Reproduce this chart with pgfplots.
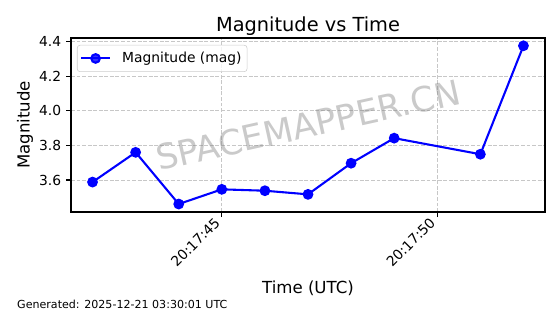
\documentclass[border=0pt]{standalone}
\usepackage{fontspec}
\setmainfont{DejaVu Sans}
\usepackage{pgfplots}
\pgfplotsset{compat=1.18}
\definecolor{mplblue}{RGB}{0,0,255}
\begin{document}
\begin{tikzpicture}
\path[use as bounding box] (0,0) rectangle (403.2bp,226.08bp);
\begin{axis}[
  at={(51.12bp,73.44bp)}, anchor=south west, scale only axis,
  width=341.28bp, height=125.28bp,
  xmin=41.5, xmax=52.5, ymin=3.415, ymax=4.421,
  xtick={45,50}, xticklabels={20:17:45,20:17:50},
  ytick={3.6,3.8,4.0,4.2,4.4},
  yticklabel style={/pgf/number format/.cd,fixed,fixed zerofill,precision=1},
  /pgf/number format/assume math mode=true,
  tick label style={font=\fontsize{10}{12}\selectfont},
  xticklabel style={xshift=-6bp, yshift=2bp, rotate=45, anchor=north east, inner sep=1bp},
  tick align=outside, xtick pos=bottom, ytick pos=left,
  major tick length=3.6bp,
  tick style={black, line width=0.8bp},
  axis line style={black, line width=0.8bp},
  grid=major,
  major grid style={black!22, line width=0.6bp, dash pattern=on 2.8bp off 1.2bp},
  legend style={at={(rel axis cs:0,1)}, anchor=north west, xshift=4.3bp, yshift=-5bp,
    draw=black!20, rounded corners=2bp, fill=white, fill opacity=0.8, text opacity=1,
    font=\fontsize{10}{12}\selectfont, inner xsep=2bp, inner ysep=3bp,
    /tikz/every odd column/.append style={column sep=6bp}},
  legend cell align=left,
  legend image code/.code={\draw[#1,mark repeat=2,mark phase=2] plot coordinates {(0bp,0bp) (10.45bp,0bp) (20.9bp,0bp)};},
]
\addplot[mplblue, line width=1.5bp, mark=*, mark size=3.1bp, mark options={fill=mplblue, draw=mplblue}]
  coordinates {
    (42,3.588) (43,3.760) (44,3.461) (45,3.546) (46,3.538)
    (47,3.517) (48,3.697) (49,3.842) (51,3.749) (52,4.376)
  };
\addlegendentry{Magnitude (mag)}
\node[rotate=12.5, text=gray, opacity=0.42, font=\fontsize{25}{30}\selectfont] at (rel axis cs:0.5,0.5) {SPACEMAPPER.CN};
\end{axis}
\node[anchor=base, font=\fontsize{14}{16}\selectfont] at (221.76bp,203.6bp) {Magnitude vs Time};
\node[anchor=center, font=\fontsize{12}{14}\selectfont] at (221.76bp,18.7bp) {Time (UTC)};
\node[anchor=center, rotate=90, font=\fontsize{12}{14}\selectfont] at (18bp,136.08bp) {Magnitude};
\node[anchor=west, font=\fontsize{8}{10}\selectfont, inner sep=0pt] at (12.2bp,7.2bp) {Generated: 2025-12-21 03:30:01 UTC};
\end{tikzpicture}
\end{document}
